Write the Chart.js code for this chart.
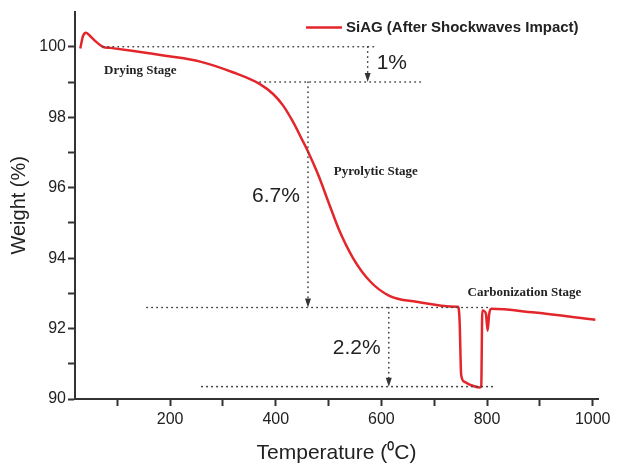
<!DOCTYPE html>
<html lang="en">
<head>
    <meta charset="utf-8">
    <title>SiAG TGA curve</title>
    <style>
        html, body { margin: 0; padding: 0; background: #fff; }
        #wrap { width: 624px; height: 466px; }
    </style>
</head>
<body>
    <div id="wrap"><canvas id="chart"></canvas></div>
    <script src="https://cdn.jsdelivr.net/npm/chart.js@4/dist/chart.umd.min.js"></script>
    <script>
        // TGA curve
        var temps   = [30, 35, 41, 49, 58, 73, 87, 131, 194, 257, 320, 370, 395, 414, 433, 449, 461, 480, 502, 521, 546, 578, 615, 666, 742, 745, 748, 751, 757, 770, 786, 789, 791, 794, 798, 801, 804, 808, 886, 1005];
        var weights = [99.95, 100.3, 100.4, 100.3, 100.17, 100.0, 99.97, 99.88, 99.74, 99.58, 99.27, 98.94, 98.66, 98.33, 97.86, 97.39, 97.03, 96.38, 95.5, 94.76, 94.01, 93.35, 92.93, 92.76, 92.62, 92.62, 92.23, 90.68, 90.49, 90.39, 90.33, 90.37, 92.51, 92.5, 92.41, 91.94, 92.41, 92.56, 92.46, 92.25];

        var xTickValues = [100, 200, 300, 400, 500, 600, 700, 800, 900, 1000];
        var yTickValues = [90, 91, 92, 93, 94, 95, 96, 97, 98, 99, 100];

        // dotted guides: [fromT, toT, weight] and arrows: [T, fromW, toW]
        var guideLines = [[73, 591, 100], [370, 680, 99], [156, 805, 92.6], [260, 817, 90.35]];
        var guideArrows = [[574, 100, 99], [461, 99, 92.6], [614, 92.6, 90.35]];

        var stageNames = ['Drying Stage', 'Pyrolytic Stage', 'Carbonization Stage'];
        var stageT     = [75, 510, 763];
        var stageW     = [99.33, 96.45, 93.02];

        var lossNames = ['1%', '6.7%', '2.2%'];
        var lossT     = [591, 355, 508];
        var lossW     = [99.53, 95.75, 91.44];

        var points = temps.map(function(t, i) { return { x: t, y: weights[i] }; });

        var sans = '"Liberation Sans", Arial, sans-serif';
        var ink = '#222';

        var notes = {
            id: 'notes',
            afterDatasetsDraw: function(chart) {
                var c = chart.ctx, xs = chart.scales.x, ys = chart.scales.y;
                var area = chart.chartArea;
                c.save();
                c.strokeStyle = '#444';
                c.fillStyle = '#333';
                c.lineWidth = 1.6;
                c.lineCap = 'round';
                c.setLineDash([0.5, 4.5]);
                guideLines.forEach(function(g) {
                    var y = ys.getPixelForValue(g[2]);
                    c.beginPath();
                    c.moveTo(xs.getPixelForValue(g[0]), y);
                    c.lineTo(xs.getPixelForValue(g[1]), y);
                    c.stroke();
                });
                guideArrows.forEach(function(a) {
                    var x = xs.getPixelForValue(a[0]);
                    var y1 = ys.getPixelForValue(a[1]), y2 = ys.getPixelForValue(a[2]);
                    c.setLineDash([0.5, 4.5]);
                    c.beginPath();
                    c.moveTo(x, y1);
                    c.lineTo(x, y2 - 6);
                    c.stroke();
                    c.setLineDash([]);
                    c.beginPath();
                    c.moveTo(x - 3, y2 - 9);
                    c.lineTo(x + 3, y2 - 9);
                    c.lineTo(x, y2);
                    c.closePath();
                    c.fill();
                });
                c.fillStyle = ink;
                c.textBaseline = 'middle';
                c.textAlign = 'left';
                c.font = 'bold 13px "Liberation Serif", "Times New Roman", serif';
                stageNames.forEach(function(s, i) {
                    c.fillText(s, xs.getPixelForValue(stageT[i]), ys.getPixelForValue(stageW[i]));
                });
                c.font = '21px ' + sans;
                lossNames.forEach(function(s, i) {
                    c.fillText(s, xs.getPixelForValue(lossT[i]), ys.getPixelForValue(lossW[i]));
                });

                // legend, top right inside the plot
                var ds = chart.data.datasets[0];
                var lx = area.right - 292, ly = area.top + 16;
                c.strokeStyle = ds.borderColor;
                c.lineWidth = 2.5;
                c.lineCap = 'butt';
                c.beginPath();
                c.moveTo(lx, ly);
                c.lineTo(lx + 36, ly);
                c.stroke();
                c.fillStyle = ink;
                c.font = 'bold 15px ' + sans;
                c.fillText(ds.label, lx + 40, ly);
                c.restore();
            }
        };

        new Chart(document.getElementById('chart'), {
            type: 'line',
            data: {
                datasets: [{
                    label: 'SiAG (After Shockwaves Impact)',
                    data: points,
                    borderColor: '#e3262b',
                    backgroundColor: '#e3262b',
                    borderWidth: 2.5,
                    pointRadius: 0,
                    cubicInterpolationMode: 'monotone',
                    fill: false
                }]
            },
            options: {
                responsive: true,
                maintainAspectRatio: false,
                animation: false,
                layout: { padding: { top: 9, right: 26, left: 0, bottom: 0 } },
                plugins: {
                    legend: { display: false },
                    tooltip: { enabled: false }
                },
                scales: {
                    x: {
                        type: 'linear',
                        min: 20,
                        max: 1010,
                        afterBuildTicks: function(s) { s.ticks = xTickValues.map(function(v) { return { value: v }; }); },
                        afterFit: function(s) { s.height = 67; },
                        border: { color: '#333', width: 2 },
                        grid: { drawOnChartArea: false, tickLength: 7, tickColor: '#333', tickWidth: 2 },
                        ticks: {
                            autoSkip: false,
                            maxRotation: 0,
                            padding: 4,
                            color: ink,
                            font: { family: sans, size: 16 },
                            callback: function(v) { return v % 200 === 0 ? v : ''; }
                        },
                        title: {
                            display: true,
                            text: 'Temperature (\u2070C)',
                            color: ink,
                            font: { family: sans, size: 21 },
                            padding: { top: 0, bottom: 0 }
                        }
                    },
                    y: {
                        min: 90,
                        max: 101,
                        afterBuildTicks: function(s) { s.ticks = yTickValues.map(function(v) { return { value: v }; }); },
                        afterFit: function(s) { s.width = 75; },
                        border: { color: '#333', width: 2 },
                        grid: { drawOnChartArea: false, tickLength: 7, tickColor: '#333', tickWidth: 2 },
                        ticks: {
                            autoSkip: false,
                            padding: 2,
                            color: ink,
                            font: { family: sans, size: 16 },
                            callback: function(v) { return v % 2 === 0 ? v : ''; }
                        },
                        title: {
                            display: true,
                            text: 'Weight (%)',
                            color: ink,
                            font: { family: sans, size: 20 },
                            padding: { top: 7, bottom: 0 }
                        }
                    }
                }
            },
            plugins: [notes]
        });
    </script>
</body>
</html>
